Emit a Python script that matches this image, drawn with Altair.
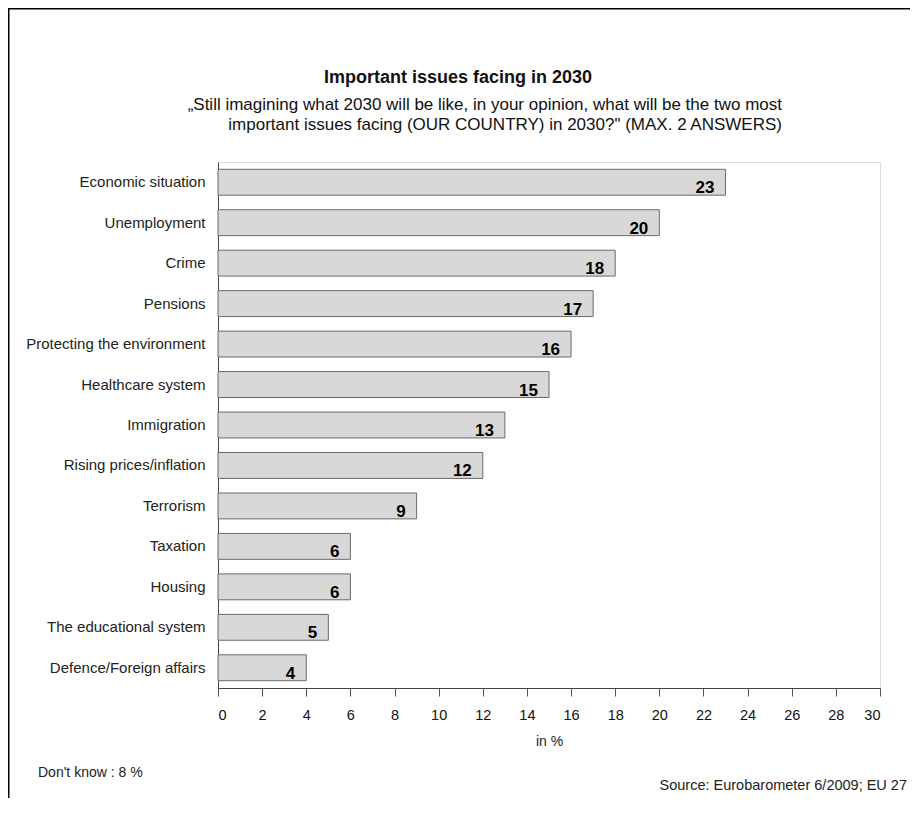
import altair as alt
import pandas as pd

categories = [
    "Economic situation", "Unemployment", "Crime", "Pensions",
    "Protecting the environment", "Healthcare system", "Immigration",
    "Rising prices/inflation", "Terrorism", "Taxation", "Housing",
    "The educational system", "Defence/Foreign affairs",
]
values = [23, 20, 18, 17, 16, 15, 13, 12, 9, 6, 6, 5, 4]
x_ticks = list(range(0, 31, 2))

title_text = "Important issues facing in 2030"
subtitle_lines = [
    "\u201eStill imagining what 2030 will be like, in your opinion, what will be the two most",
    "important issues facing (OUR COUNTRY) in 2030?\" (MAX. 2 ANSWERS)",
]
note_left = "Don't know : 8 %"
note_right = "Source: Eurobarometer 6/2009; EU 27"

df = pd.DataFrame({"issue": categories, "value": values})

FONT = "Liberation Sans, Arial, sans-serif"

W, H = 662, 526

y_enc = alt.Y("issue:N", sort=categories, title=None,
              scale=alt.Scale(paddingInner=0.36, paddingOuter=0.18),
              axis=alt.Axis(labelFont=FONT, labelFontSize=15, labelColor="#222",
                            labelPadding=13, ticks=False, domainColor="#444",
                            domainWidth=1))
x_enc = alt.X("value:Q", title="in %",
              scale=alt.Scale(domain=[0, 30], nice=False),
              axis=alt.Axis(values=x_ticks, labelFont=FONT, labelFontSize=14.5,
                            labelColor="#111", labelPadding=12, tickSize=8,
                            tickColor="#555", domainColor="#444", grid=False,
                            titleFont=FONT, titleFontSize=14, titleFontWeight="normal",
                            titleColor="#222", titlePadding=13))

bars = alt.Chart(df).mark_bar(fill="#d8d8d8", stroke="#6a6a6a", strokeWidth=1).encode(
    x=x_enc, y=y_enc)

labels = alt.Chart(df).mark_text(
    align="right", baseline="middle", dx=-11, dy=6,
    font=FONT, fontSize=17, fontWeight="bold", color="#000",
).encode(x="value:Q", y=alt.Y("issue:N", sort=categories), text="value:Q")

title_df = pd.DataFrame({"t": [title_text]})
title_mark = alt.Chart(title_df).mark_text(
    align="center", baseline="middle", font=FONT, fontSize=18, fontWeight="bold",
    color="#111",
).encode(x=alt.value(240), y=alt.value(-84), text="t:N")

sub1_df = pd.DataFrame({"t": [subtitle_lines[0]]})
sub1 = alt.Chart(sub1_df).mark_text(
    align="right", baseline="middle", font=FONT, fontSize=17, color="#111",
).encode(x=alt.value(564), y=alt.value(-57), text="t:N")

sub2_df = pd.DataFrame({"t": [subtitle_lines[1]]})
sub2 = alt.Chart(sub2_df).mark_text(
    align="right", baseline="middle", font=FONT, fontSize=17, color="#111",
).encode(x=alt.value(564), y=alt.value(-37), text="t:N")

notes_df = pd.DataFrame({"t": [note_left]})
note1 = alt.Chart(notes_df).mark_text(
    align="left", baseline="middle", font=FONT, fontSize=14, color="#222",
).encode(x=alt.value(-180), y=alt.value(611), text="t:N")

notes_df2 = pd.DataFrame({"t": [note_right]})
note2 = alt.Chart(notes_df2).mark_text(
    align="right", baseline="middle", font=FONT, fontSize=14.5, color="#222",
).encode(x=alt.value(689), y=alt.value(624), text="t:N")

border_df = pd.DataFrame({"k": [0]})
border_left = alt.Chart(border_df).mark_rule(color="#000", strokeWidth=3, clip=False).encode(
    x=alt.value(-210), y=alt.value(-155), y2=alt.value(660))
border_top = alt.Chart(border_df).mark_rule(color="#000", strokeWidth=3, clip=False).encode(
    x=alt.value(-211), x2=alt.value(720), y=alt.value(-154))

chart = alt.layer(bars, labels, title_mark, sub1, sub2, note1, note2,
                  border_left, border_top).properties(
    width=W, height=H,
    autosize=alt.AutoSizeParams(type="none"),
    padding={"left": 210, "top": 154, "right": 30, "bottom": 110},
).configure_view(stroke="#555", strokeWidth=1).configure(background="white")

chart.save("out.html", embed_options={"renderer": "svg", "actions": False})
